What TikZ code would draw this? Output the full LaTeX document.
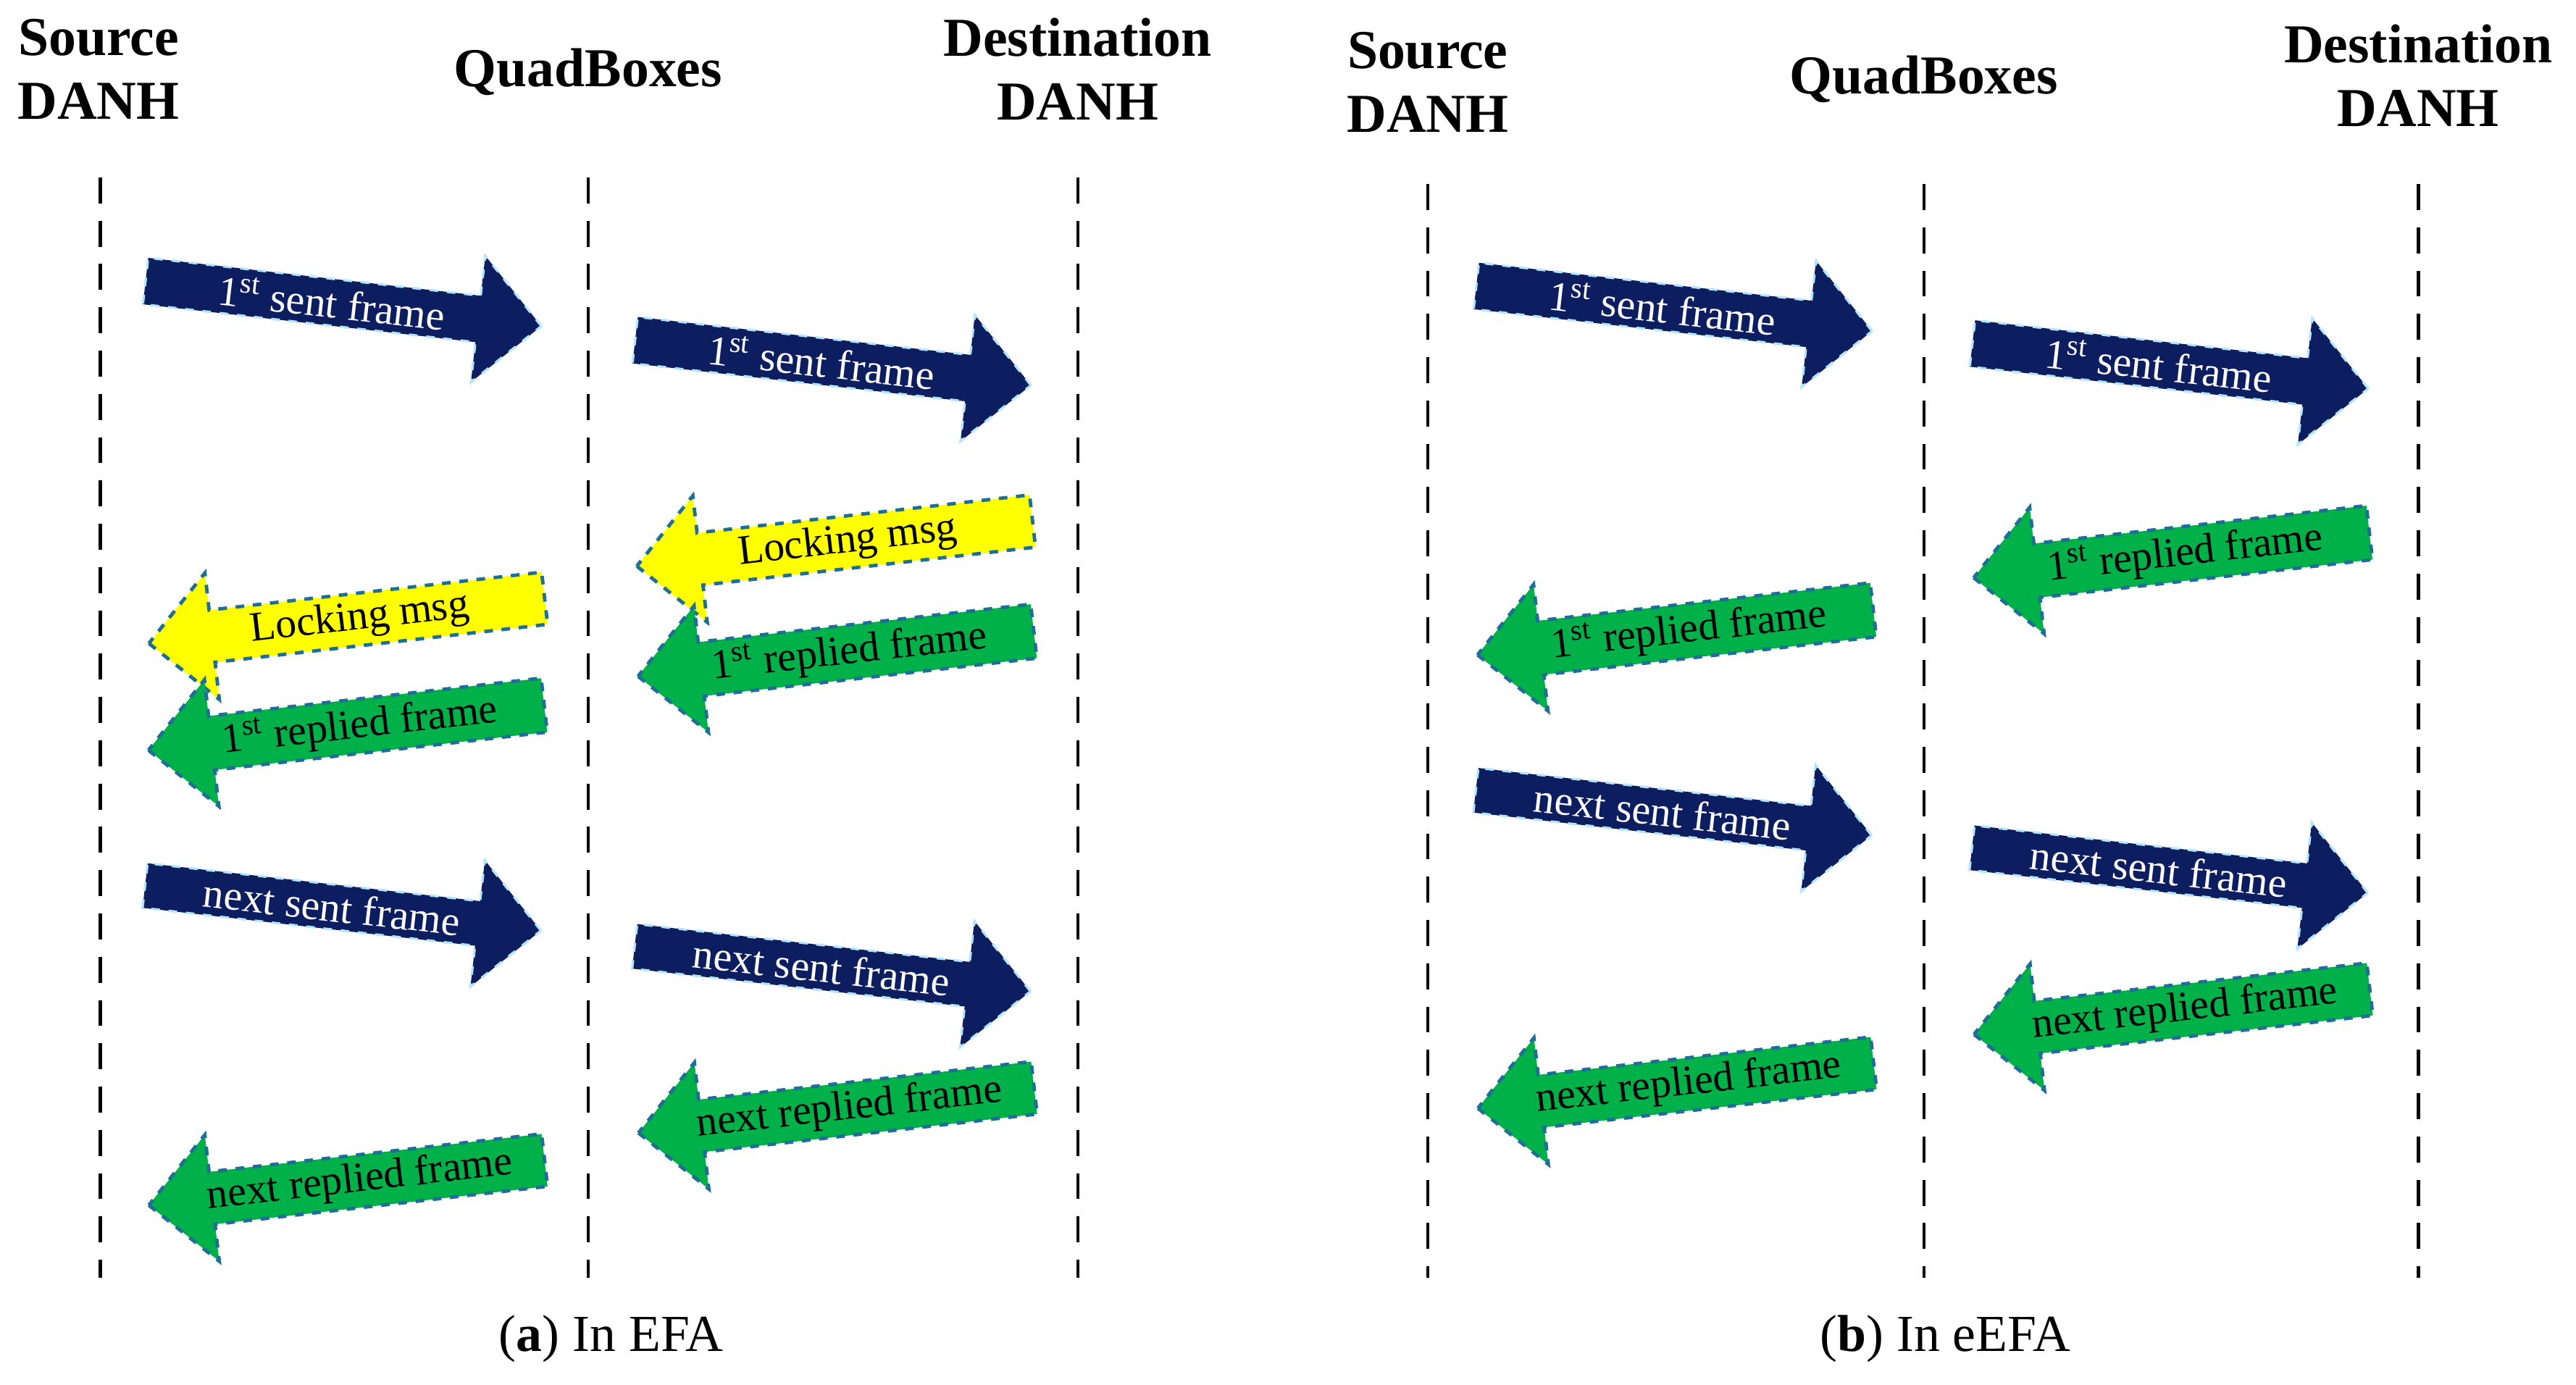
\documentclass[tikz,border=0pt]{standalone}
\usepackage{fontspec}
\setmainfont{Liberation Serif}
\usetikzlibrary{shapes.arrows}
\definecolor{navy}{RGB}{12,30,96}
\definecolor{grn}{RGB}{0,176,72}
\definecolor{yel}{RGB}{255,255,0}
\definecolor{edge}{RGB}{30,110,150}
\begin{document}
\begin{tikzpicture}[x=0.02cm,y=-0.02cm,
  arr/.style={single arrow, minimum height=4.85cm, minimum width=1.55cm, single arrow head extend=0.36cm,
    inner sep=0pt, font=\fontsize{14.5}{15}\selectfont, xshift=\dx},
  R/.style={arr, rotate=-6.5, fill=navy, draw=cyan!30, dashed, line width=0.8pt, text=white},
  L/.style={arr, rotate=6.5, shape border rotate=180, draw=edge, dashed, line width=1.2pt},
  G/.style={L, fill=grn},
  Y/.style={L, fill=yel},
  vl/.style={line width=1.1pt, dash pattern=on 9pt off 6pt},
  hd/.style={font=\bfseries\fontsize{19}{22}\selectfont, align=center},
  capt/.style={font=\fontsize{18}{20}\selectfont}]
\def\dx{0pt}
\useasboundingbox (0,0) rectangle (1568,843);
% headings
\node[hd] (s1) at (60,42) {Source\\DANH};
\node[hd] (q1) at (358,44) {QuadBoxes};
\node[hd] (d1) at (656,42) {Destination\\DANH};
\node[hd] (s2) at (869,50) {Source\\DANH};
\node[hd] (q2) at (1171,48) {QuadBoxes};
\node[hd] (d2) at (1472,46) {Destination\\DANH};
% lifelines
\coordinate (a1) at (61,108); \coordinate (a2) at (61,778);
\coordinate (b1) at (358,108); \coordinate (b2) at (358,778);
\coordinate (c1) at (656,108); \coordinate (c2) at (656,778);
\coordinate (e1) at (869,112); \coordinate (e2) at (869,778);
\coordinate (f1) at (1171,112); \coordinate (f2) at (1171,778);
\coordinate (g1) at (1472,112); \coordinate (g2) at (1472,778);
\foreach \p/\q in {a1/a2,b1/b2,c1/c2,e1/e2,f1/f2,g1/g2} \draw[vl] (\p) -- (\q);
% left panel
\node[R] (r1) at (202,184) {1\textsuperscript{st} sent frame};
\node[R] (r2) at (500,220) {1\textsuperscript{st} sent frame};
\node[Y] (y2) at (516,330) {Locking msg};
\node[G] (g2a) at (517,397) {1\textsuperscript{st} replied frame};
\node[Y] (y1) at (219,377) {Locking msg};
\node[G] (g1a) at (219,442) {1\textsuperscript{st} replied frame};
\node[R] (r3) at (202,552) {next sent frame};
\node[R] (r4) at (500,589) {next sent frame};
\node[G] (g2b) at (517,675) {next replied frame};
\node[G] (g1b) at (219,719) {next replied frame};
% right panel
\node[R] (r5) at (1012,187) {1\textsuperscript{st} sent frame};
\node[R] (r6) at (1314,222) {1\textsuperscript{st} sent frame};
\node[G] (g3a) at (1330,337) {1\textsuperscript{st} replied frame};
\node[G] (g4a) at (1028,384) {1\textsuperscript{st} replied frame};
\node[R] (r7) at (1012,494) {next sent frame};
\node[R] (r8) at (1314,529) {next sent frame};
\node[G] (g3b) at (1330,615) {next replied frame};
\node[G] (g4b) at (1028,660) {next replied frame};
% captions
\node[capt] (ca) at (372,815) {(\textbf{a}) In EFA};
\node[capt] (cb) at (1184,815) {(\textbf{b}) In eEFA};
\end{tikzpicture}
\end{document}
